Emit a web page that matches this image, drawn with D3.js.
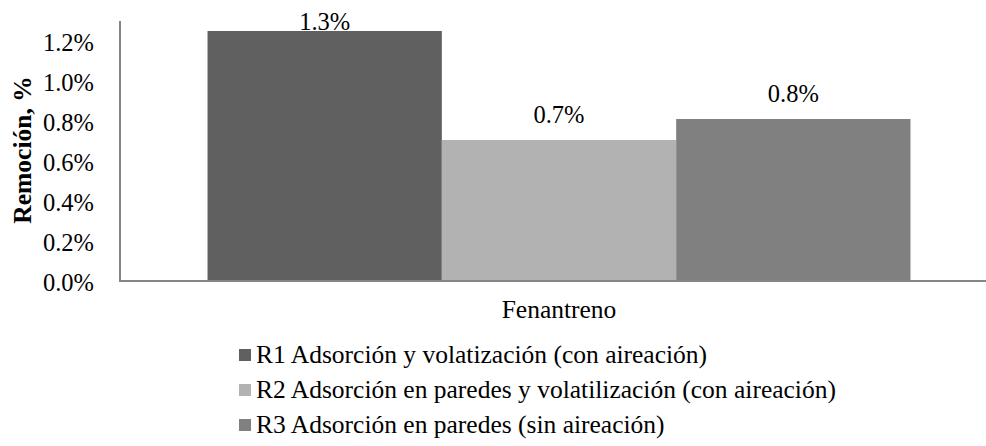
<!DOCTYPE html>
<html lang="es">
<head>
<meta charset="UTF-8">
<title>Remoción Fenantreno</title>
<script src="https://cdn.jsdelivr.net/npm/d3@7/dist/d3.min.js"></script>
<style>
  body { margin: 0; background: #fff; }
  text { font-family: "Liberation Serif", "Times New Roman", serif; fill: #000; }
</style>
</head>
<body>
<svg width="986" height="446"></svg>
<script>
var categories = ["Fenantreno"];
var seriesNames = [
  "R1 Adsorción y volatización (con aireación)",
  "R2 Adsorción en paredes y volatilización (con aireación)",
  "R3 Adsorción en paredes (sin aireación)"
];
var seriesValues = [1.25, 0.705, 0.81];
var seriesLabels = ["1.3%", "0.7%", "0.8%"];
var tickValues = [0, 0.2, 0.4, 0.6, 0.8, 1.0, 1.2];
var colors = ["#606060", "#b2b2b2", "#808080"];

var svg = d3.select("svg");
var fsTick = "24.5px", fsText = "25.5px";
var plotLeft = 120, plotRight = 998, plotTop = 21, plotBottom = 281;

var y = d3.scaleLinear().domain([0, 1.3]).range([plotBottom, plotTop]);
var x0 = d3.scaleBand().domain(categories).range([plotLeft, plotRight]).paddingOuter(0.1245);
var x1 = d3.scaleBand().domain(seriesNames).range([0, x0.bandwidth()]);

// bars + data labels
categories.forEach(function(cat) {
  var g = svg.append("g").attr("transform", "translate(" + x0(cat) + ",0)");
  seriesNames.forEach(function(s, i) {
    g.append("rect")
      .attr("x", x1(s))
      .attr("y", y(seriesValues[i]))
      .attr("width", x1.bandwidth())
      .attr("height", y(0) - y(seriesValues[i]) - 1)
      .attr("fill", colors[i]);
    g.append("text")
      .attr("x", x1(s) + x1.bandwidth() / 2)
      .attr("y", Math.max(y(seriesValues[i]) - 17, 30))
      .attr("text-anchor", "middle")
      .style("font-size", fsTick)
      .text(seriesLabels[i]);
  });
});

// y axis
var yAxis = svg.append("g")
  .attr("transform", "translate(" + plotLeft + ",0)")
  .call(d3.axisLeft(y).tickValues(tickValues).tickSize(0).tickPadding(26)
    .tickFormat(function(d) { return d.toFixed(1) + "%"; }));
yAxis.select(".domain").remove();
yAxis.selectAll("text").style("font-size", fsTick).attr("dy", "0.38em")
  .style("font-family", "Liberation Serif");

svg.append("line")
  .attr("x1", plotLeft).attr("x2", plotLeft)
  .attr("y1", plotTop).attr("y2", plotBottom + 1)
  .attr("stroke", "#868686").attr("stroke-width", 2);

// x axis
var xAxis = svg.append("g")
  .attr("transform", "translate(0," + plotBottom + ")")
  .call(d3.axisBottom(x0).tickSize(0).tickPadding(19));
xAxis.select(".domain").remove();
xAxis.selectAll("text").style("font-size", fsText).attr("dy", "0.71em")
  .style("font-family", "Liberation Serif");

svg.append("line")
  .attr("x1", plotLeft - 1).attr("x2", plotRight)
  .attr("y1", plotBottom).attr("y2", plotBottom)
  .attr("stroke", "#868686").attr("stroke-width", 2);

// y title
svg.append("text")
  .attr("transform", "translate(31,150) rotate(-90)")
  .attr("text-anchor", "middle")
  .style("font-size", fsText)
  .style("font-weight", "bold")
  .text("Remoción, %");

// legend
var legend = svg.append("g").attr("transform", "translate(239,0)");
seriesNames.forEach(function(s, i) {
  var cy = 355 + i * 35;
  legend.append("rect")
    .attr("x", 0).attr("y", cy - 6)
    .attr("width", 12).attr("height", 12)
    .attr("fill", colors[i]);
  legend.append("text")
    .attr("x", 17).attr("y", cy + 8)
    .style("font-size", fsText)
    .text(s);
});
</script>
</body>
</html>
